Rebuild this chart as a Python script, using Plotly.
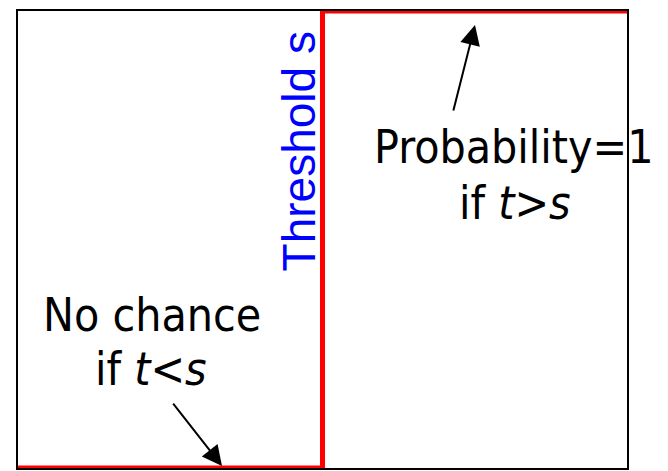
import plotly.graph_objects as go

# Step function: probability of exceeding threshold s
threshold = 0.5
step_x = [0.0, threshold, threshold, 1.0]
step_y = [0.0, 0.0, 1.0, 1.0]

label_threshold = "Threshold s"
label_high = ["Probability=1", "if <i>t>s</i>"]
label_low = ["No chance", "if <i>t<s</i>"]

BLACK_FONT = "DejaVu Sans Condensed, DejaVu Sans, sans-serif"
FS = 46

# page body has an 8px default margin, so the figure is sized/shifted to fit
fig = go.Figure()
fig.add_trace(go.Scatter(
    x=step_x, y=step_y, mode="lines",
    line=dict(color="#ff0000", width=5),
    cliponaxis=False, hoverinfo="skip", showlegend=False,
))

# screen-pixel -> data helpers (plot area on screen: x 18..627, y 9..468)
X0, X1, Y0, Y1 = 18, 627, 9, 468

def px2x(px):
    return (px - X0) / (X1 - X0)

def py2y(py):
    return (Y1 - py) / (Y1 - Y0)

annotations = [
    dict(x=px2x(299), y=py2y(150), text=label_threshold, textangle=-90,
         font=dict(family="Liberation Sans, Arial, sans-serif", size=FS, color="#0000ff")),
    dict(x=px2x(514), y=py2y(146), text=label_high[0],
         font=dict(family=BLACK_FONT, size=FS, color="#000000")),
    dict(x=px2x(515), y=py2y(202), text=label_high[1],
         font=dict(family=BLACK_FONT, size=FS, color="#000000")),
    dict(x=px2x(152), y=py2y(314), text=label_low[0],
         font=dict(family=BLACK_FONT, size=FS, color="#000000")),
    dict(x=px2x(151), y=py2y(369), text=label_low[1],
         font=dict(family=BLACK_FONT, size=FS, color="#000000")),
]
for a in annotations:
    a.update(xref="x", yref="y", showarrow=False, xanchor="center", yanchor="middle")

# arrows
arrows = [
    dict(x=px2x(475), y=py2y(23), ax=453 - 475, ay=110 - 23),
    dict(x=px2x(222), y=py2y(466), ax=172 - 222, ay=402 - 466),
]
for a in arrows:
    a.update(xref="x", yref="y", text="", showarrow=True, arrowhead=2,
             arrowsize=2, arrowwidth=2, arrowcolor="#000000", standoff=0)
annotations += arrows

W, H = 660, 463
l = X0 - 8
t = Y0 - 8
fig.update_layout(
    width=W, height=H,
    margin=dict(l=l, r=W - (X1 - 8), t=t, b=H - (Y1 - 8), pad=0),
    paper_bgcolor="white", plot_bgcolor="white",
    annotations=annotations,
    showlegend=False,
)
axis_common = dict(range=[0, 1], showgrid=False, zeroline=False, showticklabels=False,
                   ticks="", showline=True, linecolor="#000000", linewidth=2, mirror=True,
                   fixedrange=True)
fig.update_xaxes(**axis_common)
fig.update_yaxes(**axis_common)

fig.write_html("out.html", config={"displayModeBar": False})
